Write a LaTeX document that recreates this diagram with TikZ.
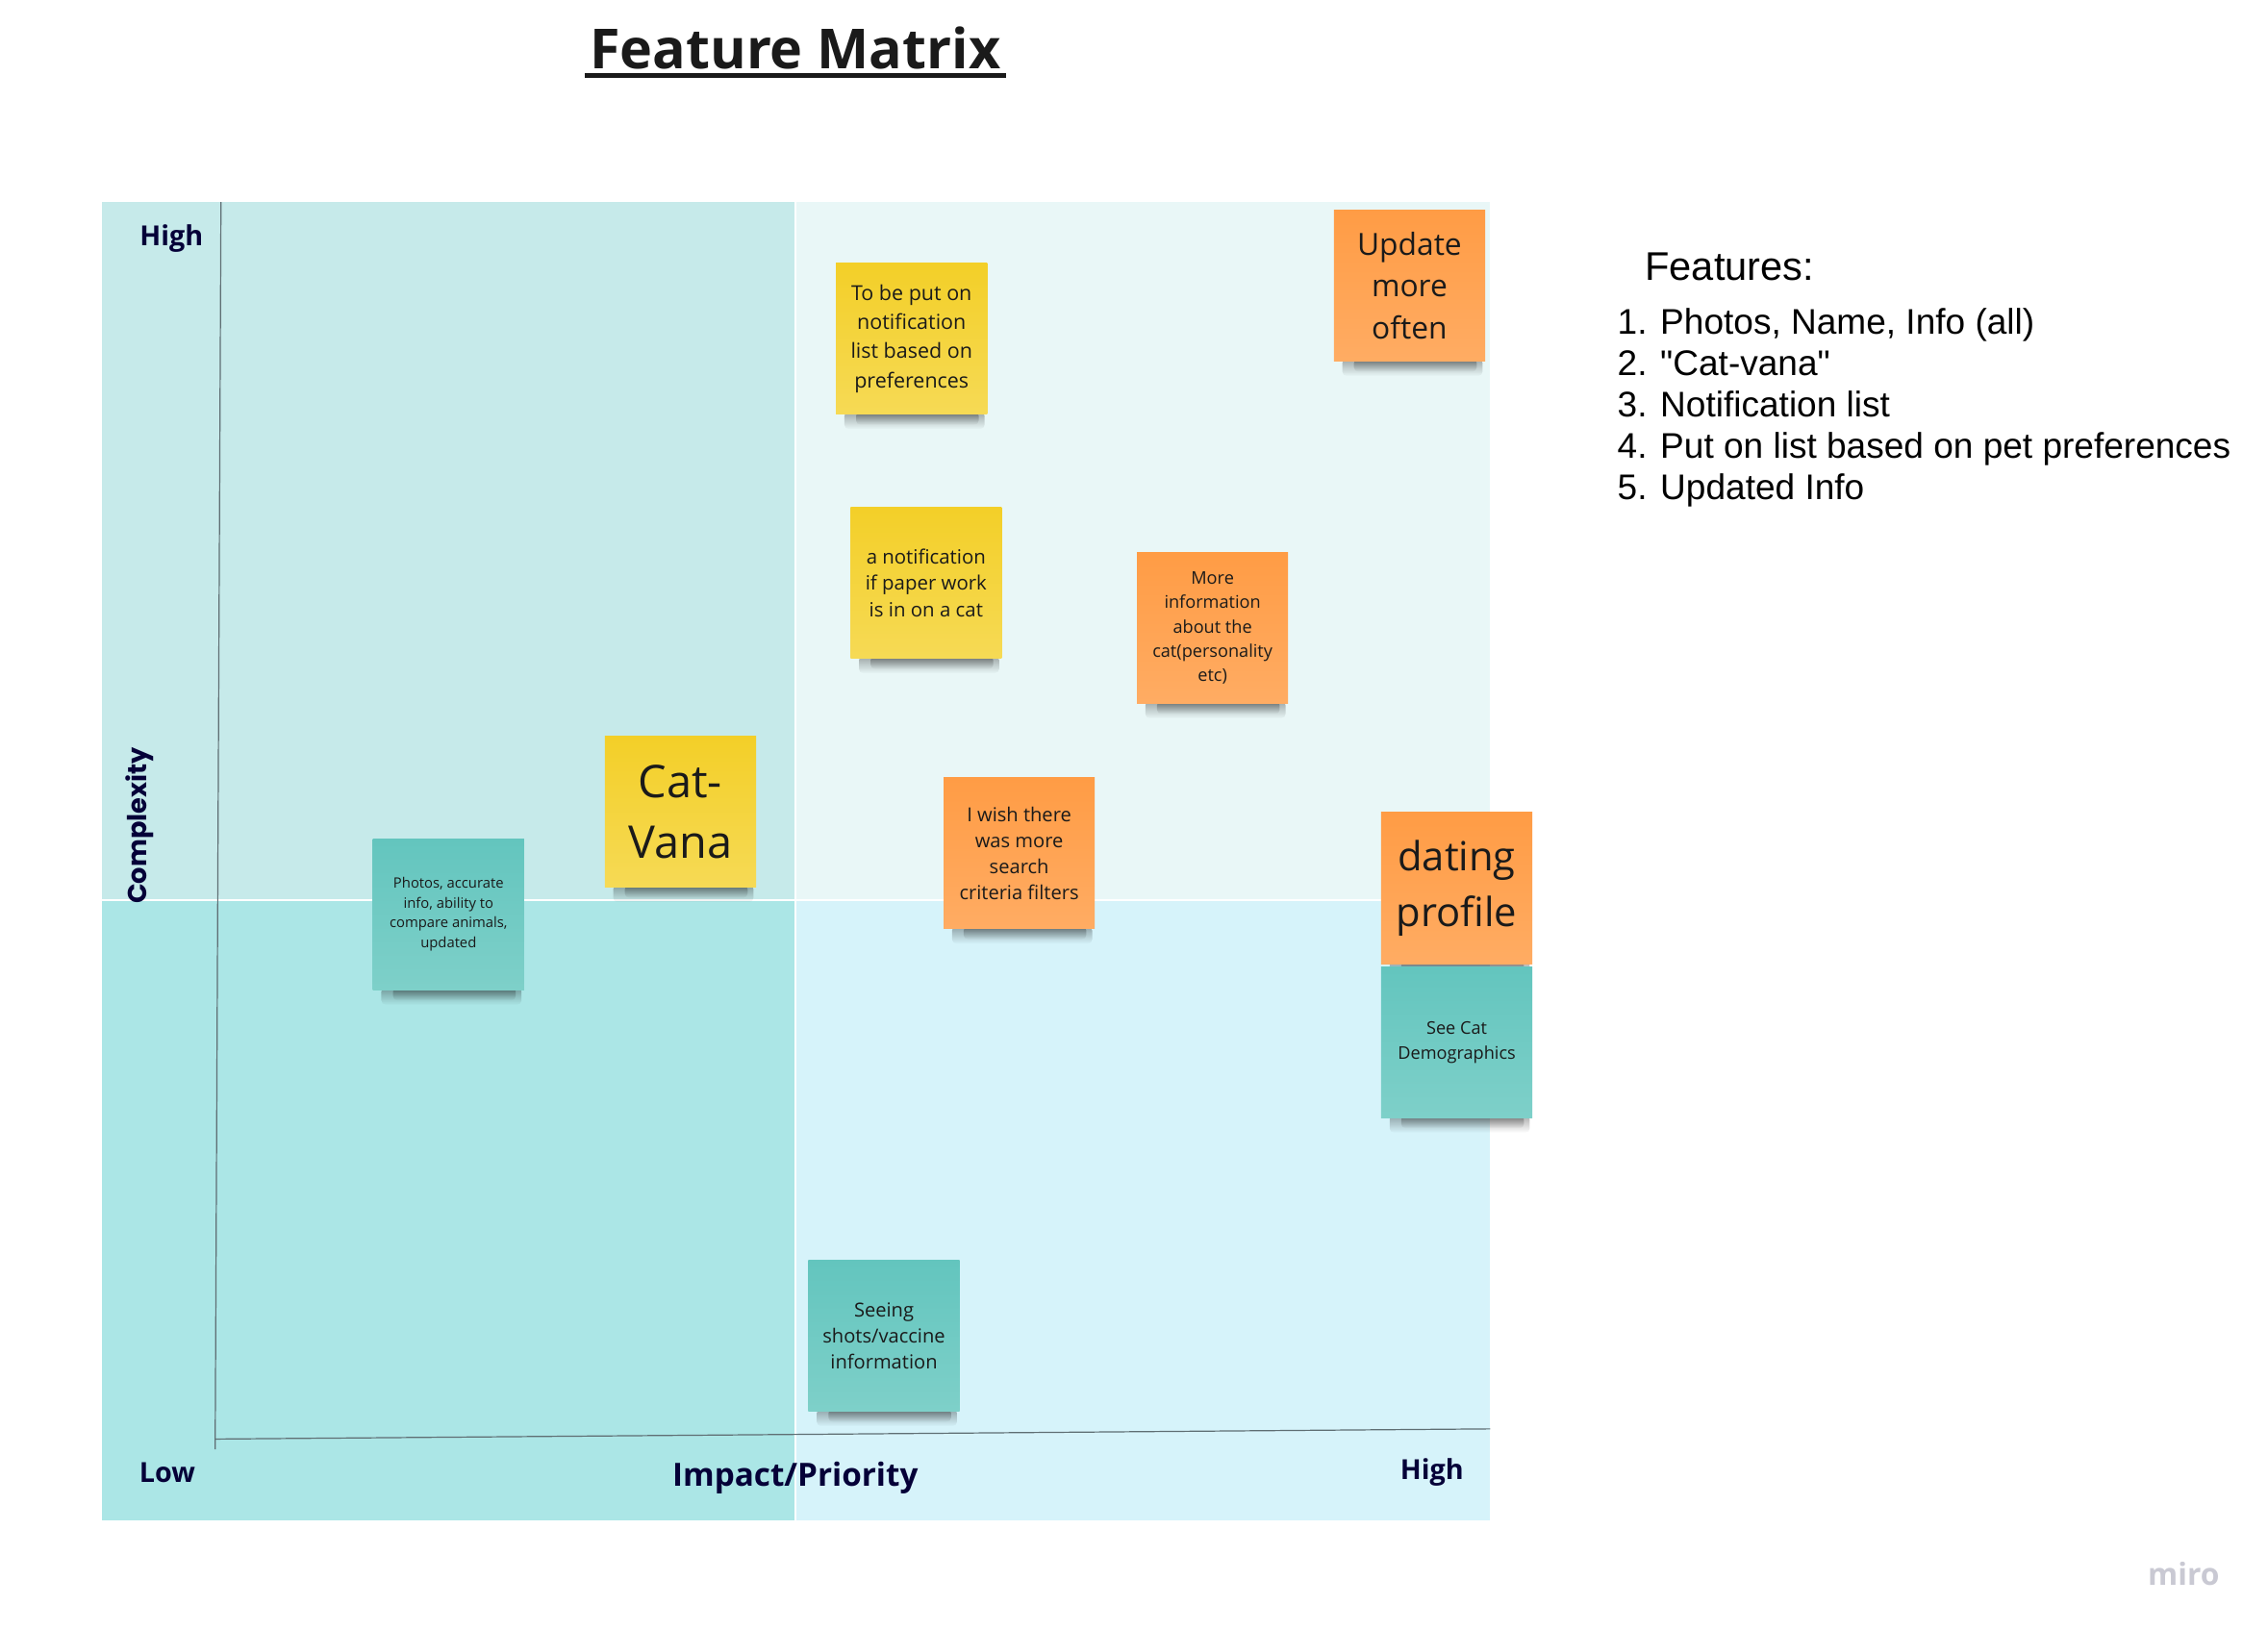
\documentclass[tikz,border=0pt]{standalone}
\usepackage{fontspec}
\usepackage{tikz}
\usetikzlibrary{fadings}
\setmainfont{Open Sans}
\newfontfamily\poppins{Poppins}
\newfontfamily\arialfont{Liberation Sans}

\definecolor{quadTL}{HTML}{C6EAEA}
\definecolor{quadTR}{HTML}{E9F7F7}
\definecolor{quadBL}{HTML}{ABE6E6}
\definecolor{quadBR}{HTML}{D6F3FA}
\definecolor{navy}{HTML}{050038}
\definecolor{axisgray}{HTML}{5F6E73}
\definecolor{ink}{HTML}{1A1A1A}
\definecolor{yellowtop}{HTML}{F3CF28}
\definecolor{yellowbot}{HTML}{F6DA55}
\definecolor{orangetop}{HTML}{FF9C45}
\definecolor{orangebot}{HTML}{FFAC63}
\definecolor{tealtop}{HTML}{63C5BE}
\definecolor{tealbot}{HTML}{7ED0C9}
\definecolor{mirogray}{HTML}{C9C9D3}

\pgfdeclarelayer{board}
\pgfdeclarelayer{shade}
\pgfsetlayers{board,shade,main}

\tikzset{
  sticky/.style={minimum width=104pt, minimum height=104pt, inner sep=0pt,
    align=center, text=ink},
  yellownote/.style={sticky, top color=yellowtop, bottom color=yellowbot},
  orangenote/.style={sticky, top color=orangetop, bottom color=orangebot},
  tealnote/.style={sticky, top color=tealtop, bottom color=tealbot},
  axislabel/.style={text=navy, font=\bfseries\fontsize{19}{22}\selectfont},
  axisline/.style={draw=axisgray, line width=0.8pt},
  notefont/.style 2 args={font=\fontsize{#1}{#2}\selectfont},
  shadowband/.style={black, opacity=0.33, path fading=south, rounded corners=3pt}
}

\begin{document}
\begin{tikzpicture}[x=1pt,y=-1pt]
  \useasboundingbox (0,0) rectangle (1560,1121);

  % board
  \begin{pgfonlayer}{board}
    \fill[white] (0,0) rectangle (1560,1121);
    \fill[quadTL] (70,139) rectangle (546.3,618.3);
    \fill[quadTR] (547.7,139) rectangle (1025,618.3);
    \fill[quadBL] (70,619.7) rectangle (546.3,1046);
    \fill[quadBR] (547.7,619.7) rectangle (1025,1046);
    \coordinate (ytop) at (152,139);
    \coordinate (ybot) at (148,997);
    \coordinate (xleft) at (148,990);
    \coordinate (xright) at (1025,983);
    \draw[axisline] (ybot) -- (ytop);
    \draw[axisline] (xleft) -- (xright);
  \end{pgfonlayer}

  % title
  \node[anchor=base, font=\bfseries\fontsize{38}{40}\selectfont, text=ink] (title) at (547,47) {Feature Matrix};
  \draw[line width=3pt, ink] ([yshift=-5pt]title.base west) -- ([yshift=-5pt]title.base east);

  % axis labels
  \node[axislabel] (highy) at (118,164) {High};
  \node[axislabel] (lowx) at (115,1013) {Low};
  \node[axislabel] (highx) at (985,1013) {High};
  \node[axislabel, font=\bfseries\fontsize{22}{24}\selectfont] (impact) at (547,1017) {Impact/Priority};
  \node[text=navy, rotate=90, font=\poppins\bfseries\fontsize{18}{20}\selectfont] (complexity) at (96,568) {Complexity};

  % stickies
  \node[yellownote, notefont={14.2}{20}] (prefs) at (627,233) {To be put on\\notification\\list based on\\preferences};
  \node[yellownote, notefont={13.5}{18}] (paperwork) at (637,401) {a notification\\if paper work\\is in on a cat};
  \node[orangenote, notefont={12}{16.8}] (moreinfo) at (834,432) {More\\information\\about the\\cat(personality\\etc)};
  \node[orangenote, notefont={21}{28.5}] (update) at (969.5,196.5) {Update\\more\\often};
  \node[yellownote, notefont={31}{42}] (catvana) at (468,558.5) {Cat-\\Vana};
  \node[tealnote, notefont={9.8}{13.7}] (photos) at (308.5,629) {Photos, accurate\\info, ability to\\compare animals,\\updated};
  \node[orangenote, notefont={13.3}{18}] (search) at (701,587) {I wish there\\was more\\search\\criteria filters};
  \node[orangenote, notefont={27.6}{38}] (dating) at (1002,611) {dating\\profile};
  \node[tealnote, notefont={12}{17}] (demog) at (1002,717) {See Cat\\Demographics};
  \node[tealnote, notefont={13.3}{18}] (vaccine) at (608,919) {Seeing\\shots/vaccine\\information};

  % shadows under the stickies
  \begin{pgfonlayer}{shade}
    \foreach \n in {prefs,paperwork,moreinfo,update,catvana,photos,search,dating,demog,vaccine}{
      \fill[shadowband] ([xshift=6pt,yshift=2pt]\n.south west) rectangle ([xshift=-2pt,yshift=-10pt]\n.south east);
      \fill[shadowband] ([xshift=14pt,yshift=2pt]\n.south west) rectangle ([xshift=-6pt,yshift=-7pt]\n.south east);
    }
  \end{pgfonlayer}

  % feature list
  \node[anchor=base west, font=\arialfont\fontsize{27.5}{30}\selectfont] (feathead) at (1128,193) {Features:};
  \foreach \t [count=\i] in {{Photos, Name, Info (all)},"Cat-vana",Notification list,Put on list based on pet preferences,Updated Info}
    \node[anchor=base west, font=\arialfont\fontsize{24.5}{28}\selectfont] (feat\i) at (1109,230+28.5*\i-28.5) {\i. \t};

  \node[text=mirogray, font=\bfseries\fontsize{21}{24}\selectfont] (miro) at (1502,1083) {miro};
\end{tikzpicture}
\end{document}
